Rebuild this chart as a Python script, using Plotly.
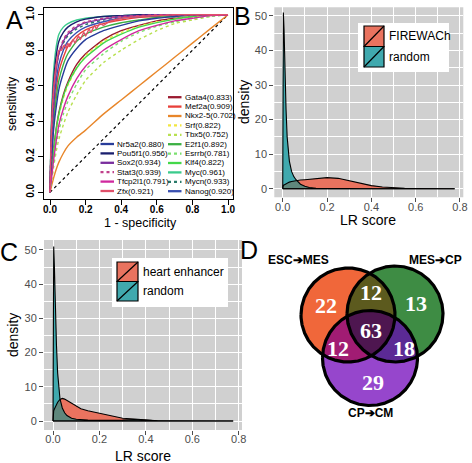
import numpy as np
import plotly.graph_objects as go

W, H = 472, 463
FONT = "Liberation Sans"

# ---------------- Panel A : ROC curves ----------------
fpr_grid = [0, .005, .01, .02, .035, .05, .075, .1, .15, .2, .3, .4, .5, .6, .7, .8, .9, 1]

sens_Gata4 = [0, .07, .13, .24, .36, .45, .55, .62, .72, .78, .86, .91, .94, .965, .98, .99, 1, 1]
sens_Mef2a = [0, .15, .26, .43, .58, .68, .76, .82, .88, .915, .95, .97, .985, .99, 1, 1, 1, 1]
sens_Nkx25 = [0, .02, .04, .08, .13, .17, .22, .26, .31, .35, .44, .52, .60, .68, .76, .84, .92, 1]
sens_Srf = [0, .06, .11, .22, .34, .43, .53, .60, .70, .77, .85, .90, .935, .96, .975, .99, .995, 1]
sens_Tbx5 = [0, .04, .07, .14, .23, .30, .38, .45, .55, .63, .73, .80, .86, .91, .95, .97, .99, 1]
sens_E2f1 = [0, .12, .22, .38, .53, .63, .72, .78, .85, .89, .93, .955, .97, .985, .99, 1, 1, 1]
sens_Esrrb = [0, .04, .08, .16, .27, .35, .44, .51, .61, .69, .78, .85, .90, .935, .96, .98, .99, 1]
sens_Klf4 = [0, .06, .12, .23, .35, .44, .54, .61, .70, .76, .84, .89, .93, .955, .975, .99, 1, 1]
sens_Myc = [0, .30, .48, .68, .82, .89, .93, .95, .97, .98, .99, .995, 1, 1, 1, 1, 1, 1]
sens_Mycn = [0, .24, .38, .56, .70, .78, .84, .88, .92, .945, .97, .985, .99, .995, 1, 1, 1, 1]
sens_Nanog = [0, .18, .30, .48, .63, .72, .80, .85, .90, .93, .96, .98, .99, .995, 1, 1, 1, 1]
sens_Nr5a2 = [0, .12, .20, .35, .48, .58, .67, .74, .81, .86, .91, .94, .965, .98, .99, 1, 1, 1]
sens_Pou5f1 = [0, .25, .42, .62, .77, .85, .90, .93, .96, .975, .99, .995, 1, 1, 1, 1, 1, 1]
sens_Sox2 = [0, .20, .34, .53, .69, .78, .85, .89, .93, .955, .975, .99, .995, 1, 1, 1, 1, 1]
sens_Stat3 = [0, .22, .37, .56, .71, .79, .86, .90, .94, .96, .98, .99, .995, 1, 1, 1, 1, 1]
sens_Tfcp2l1 = [0, .05, .09, .18, .29, .38, .47, .54, .64, .71, .80, .86, .91, .94, .965, .98, .995, 1]
fpr_Zfx = [0, .005, .01, .02, .035, .05, .065, .08, .09, .1, .11, .13, .14, .16, .17, .19, .2, .22,
           .23, .25, .26, .28, .3, .33, .36, .4, .5, .6, .7, .8, .9, 1]
sens_Zfx = [0, .25, .40, .58, .72, .80, .80, .83, .81, .84, .82, .86, .84, .88, .86, .90, .88, .92,
            .90, .94, .92, .95, .94, .96, .97, .98, .99, .995, 1, 1, 1, 1]

genes = ["Gata4", "Mef2a", "Nkx2-5", "Srf", "Tbx5", "E2f1", "Esrrb", "Klf4", "Myc", "Mycn",
         "Nanog", "Nr5a2", "Pou5f1", "Sox2", "Stat3", "Tfcp2l1", "Zfx"]
aucs = [0.833, 0.909, 0.702, 0.822, 0.752, 0.892, 0.781, 0.822, 0.961, 0.933,
        0.920, 0.880, 0.956, 0.934, 0.939, 0.791, 0.921]
roc_x = [fpr_grid] * 16 + [fpr_Zfx]
roc_y = [sens_Gata4, sens_Mef2a, sens_Nkx25, sens_Srf, sens_Tbx5, sens_E2f1, sens_Esrrb, sens_Klf4,
         sens_Myc, sens_Mycn, sens_Nanog, sens_Nr5a2, sens_Pou5f1, sens_Sox2, sens_Stat3,
         sens_Tfcp2l1, sens_Zfx]
gene_colors = ["#9B1B30", "#E8403A", "#E8862A", "#F2E640", "#B8E050", "#3CB043", "#7CE070",
               "#44D84A", "#3BCB8C", "#2A7A6A", "#3A50B0", "#283C9A", "#1A1F6E", "#7A2E9E",
               "#C0408A", "#D0289E", "#E0506A"]
gene_dash = ["solid", "solid", "solid", "dot", "dot", "solid", "dot", "solid", "solid", "dot",
             "solid", "solid", "solid", "solid", "dot", "solid", "solid"]
right_col_count = 11  # first 11 genes in right legend column

# ---------------- Panels B, C : densities ----------------
lr_score = [0, .003, .006, .01, .015, .02, .03, .04, .05, .06, .08, .1, .12, .15, .2, .25, .3,
            .35, .4, .45, .5, .55, .6, .65, .7, .776]
dens_firewach = [0.9, 1.0, 1.1, 1.25, 1.4, 1.6, 1.9, 2.1, 2.25, 2.35, 2.5, 2.6, 2.7, 2.9, 3.2,
                 3.0, 2.3, 1.5, 0.9, 0.5, 0.25, 0.12, 0.06, 0.03, 0.01, 0]
dens_random_B = [30, 51, 46, 34, 23, 15, 8, 5, 3.5, 2.6, 1.3, 0.7, 0.35, 0.15, 0.05, 0.02, 0.01,
                 0, 0, 0, 0, 0, 0, 0, 0, 0]
dens_heart = [2.5, 3.0, 3.5, 4.2, 4.9, 5.5, 6.3, 6.6, 6.4, 6.0, 5.0, 4.2, 3.6, 3.0, 2.2, 1.4, 0.8,
              0.6, 0.25, 0.08, 0.03, 0.01, 0, 0, 0, 0]
dens_random_C = [20, 51, 45, 33, 22, 14, 6.5, 3.8, 2.4, 1.6, 0.8, 0.5, 0.35, 0.25, 0.2, 0.2, 0.3,
                 0.45, 0.2, 0.05, 0.02, 0.01, 0, 0, 0, 0]
x_ticks_lr = [0, 0.2, 0.4, 0.6, 0.8]
x_ticktext_lr = ["0.0", "0.2", "0.4", "0.6", "0.8"]
y_ticks_dens = [0, 10, 20, 30, 40, 50]

# ---------------- Panel D : Venn ----------------
venn_sets = ["ESC\u2794MES", "MES\u2794CP", "CP\u2794CM"]
venn_counts = {"A": 22, "B": 13, "C": 29, "AB": 12, "AC": 12, "BC": 18, "ABC": 63}

# colours
SALMON = "#E9735F"
TEAL = "#40A9AE"
OVERLAP = "#5F877C"
PANEL_GREY = "#D0D0D0"


def px(x):
    return x / W


def py(y):
    return 1 - y / H


fig = go.Figure()
shapes = []
annotations = []

# ---- A: ROC traces
fig.add_trace(go.Scatter(x=[0, 1], y=[0, 1], mode="lines", xaxis="x", yaxis="y",
                         line=dict(color="black", width=1.2, dash="dot"), hoverinfo="skip"))
for g, xs, ys, col, dsh in zip(genes, roc_x, roc_y, gene_colors, gene_dash):
    fig.add_trace(go.Scatter(x=xs, y=ys, mode="lines", xaxis="x", yaxis="y", name=g,
                             line=dict(color=col, width=1.4, dash=dsh, shape="spline", smoothing=0.5)))

# ---- A: legend (two columns)
row_h = 9.4
for i, (g, a, col, dsh) in enumerate(zip(genes, aucs, gene_colors, gene_dash)):
    if i < right_col_count:
        lx0, lx1, tx, yy = 168.0, 181.5, 182.5, 97.2 + row_h * i
    else:
        j = i - right_col_count
        lx0, lx1, tx, yy = 100.5, 114.0, 115.0, 144.0 + row_h * j
    shapes.append(dict(type="line", xref="paper", yref="paper", x0=px(lx0), x1=px(lx1),
                       y0=py(yy), y1=py(yy), line=dict(color=col, width=2.3, dash=dsh)))
    annotations.append(dict(xref="paper", yref="paper", x=px(tx), y=py(yy), xanchor="left",
                            yanchor="middle", showarrow=False, text=f"{g}({a:.3f})",
                            font=dict(family=FONT, size=8, color="black")))

# ---- B & C densities
def density_traces(xa, ya, d1, d2):
    ov = [min(a, b) for a, b in zip(d1, d2)]
    for d, c in ((d1, SALMON), (d2, TEAL), (ov, OVERLAP)):
        fig.add_trace(go.Scatter(x=lr_score, y=d, mode="lines", fill="tozeroy", fillcolor=c,
                                 line=dict(width=0, color=c), xaxis=xa, yaxis=ya, hoverinfo="skip"))
    for d in (d1, d2):
        xs = [lr_score[0]] + lr_score + [lr_score[-1], lr_score[0]]
        ys = [0] + d + [0, 0]
        fig.add_trace(go.Scatter(x=xs, y=ys, mode="lines", line=dict(color="black", width=1.1),
                                 xaxis=xa, yaxis=ya, hoverinfo="skip"))


density_traces("x2", "y2", dens_firewach, dens_random_B)
density_traces("x3", "y3", dens_heart, dens_random_C)

for ax in ("x2", "x3"):
    yax = "y" + ax[1:]
    shapes.append(dict(type="rect", xref=f"{ax} domain", yref=f"{yax} domain", x0=0, x1=1, y0=0, y1=1,
                       fillcolor=PANEL_GREY, line=dict(width=0), layer="below"))


def legend_box(x0, y0, x1, y1, kx0, kx1, ky, labels, tx, fs):
    shapes.append(dict(type="rect", xref="paper", yref="paper", x0=px(x0), x1=px(x1), y0=py(y1),
                       y1=py(y0), fillcolor="white", line=dict(width=0)))
    for (k0, k1), col, lab in zip(ky, (SALMON, TEAL), labels):
        shapes.append(dict(type="rect", xref="paper", yref="paper", x0=px(kx0), x1=px(kx1),
                           y0=py(k1), y1=py(k0), fillcolor=col, line=dict(color="black", width=1.2)))
        shapes.append(dict(type="line", xref="paper", yref="paper", x0=px(kx0), x1=px(kx1),
                           y0=py(k1), y1=py(k0), line=dict(color="black", width=1.2)))
        annotations.append(dict(xref="paper", yref="paper", x=px(tx), y=py((k0 + k1) / 2),
                                xanchor="left", yanchor="middle", showarrow=False, text=lab,
                                font=dict(family=FONT, size=fs, color="black")))


legend_box(358, 23, 449, 72, 364, 384, [(26, 46.5), (46.5, 67)], ["FIREWACh", "random"], 386.5, 12)
legend_box(112, 258, 228, 307, 117, 138, [(262, 281.5), (281.5, 301)], ["heart enhancer", "random"], 140.5, 12)

# ---- D: Venn
circles = [((348, 315), 47), ((395, 314), 48), ((370, 358), 47.5)]
set_colors = ["#F0673A", "#3E8C44", "#9646CC"]
region_colors = {(0, 1): "#5C5A1E", (0, 2): "#A11C73", (1, 2): "#5B2A95", (0, 1, 2): "#4E1650"}


def inside(p, k):
    (cx, cy), r = circles[k]
    return (p[0] - cx) ** 2 + (p[1] - cy) ** 2 <= r * r + 1e-6


def region_poly(idx):
    pts = []
    for i in idx:
        (cx, cy), r = circles[i]
        for t in np.linspace(0, 2 * np.pi, 1441):
            p = (cx + r * np.cos(t), cy + r * np.sin(t))
            if all(inside(p, j) for j in idx if j != i):
                pts.append(p)
    pts = np.array(pts)
    c = pts.mean(axis=0)
    order = np.argsort(np.arctan2(pts[:, 1] - c[1], pts[:, 0] - c[0]))
    pts = pts[order]
    return list(pts[:, 0]) + [pts[0, 0]], list(pts[:, 1]) + [pts[0, 1]]


for k in range(3):
    xs, ys = region_poly((k,))
    fig.add_trace(go.Scatter(x=xs, y=ys, mode="lines", fill="toself", fillcolor=set_colors[k],
                             line=dict(width=0), xaxis="x4", yaxis="y4", hoverinfo="skip"))
for idx, col in region_colors.items():
    xs, ys = region_poly(idx)
    fig.add_trace(go.Scatter(x=xs, y=ys, mode="lines", fill="toself", fillcolor=col,
                             line=dict(width=0), xaxis="x4", yaxis="y4", hoverinfo="skip"))
for k in range(3):
    xs, ys = region_poly((k,))
    fig.add_trace(go.Scatter(x=xs, y=ys, mode="lines", line=dict(color="black", width=3.2),
                             xaxis="x4", yaxis="y4", hoverinfo="skip"))

count_pos = {"A": (326, 305), "AB": (371, 292), "B": (416, 303), "ABC": (371, 330),
             "AC": (338, 348), "BC": (404, 348), "C": (373, 382)}
for key, (cx, cy) in count_pos.items():
    annotations.append(dict(xref="x4", yref="y4", x=cx, y=cy, xanchor="center", yanchor="middle",
                            showarrow=False, text=f"<b>{venn_counts[key]}</b>",
                            font=dict(family="Liberation Serif", size=22, color="white")))
for lab, (lx, ly) in zip(venn_sets, [(298, 260), (435, 260), (370, 413)]):
    annotations.append(dict(xref="paper", yref="paper", x=px(lx), y=py(ly), xanchor="center",
                            yanchor="middle", showarrow=False, text=f"<b>{lab}</b>",
                            font=dict(family=FONT, size=12, color="black")))

# ---- titles and panel letters
def txt(x, y, s, size, angle=0, bold=False, family=FONT):
    annotations.append(dict(xref="paper", yref="paper", x=px(x), y=py(y), xanchor="center",
                            yanchor="middle", showarrow=False, text=f"<b>{s}</b>" if bold else s,
                            textangle=angle, font=dict(family=family, size=size, color="black")))


txt(140, 222.5, "1 - specificity", 12.5)
txt(12, 104, "sensitivity", 12.5, angle=-90)
txt(368, 219.5, "LR score", 14)
txt(244, 102, "density", 14, angle=-90)
txt(143, 456, "LR score", 14)
txt(13, 335, "density", 14, angle=-90)
txt(14.5, 20, "A", 25)
txt(243, 16, "B", 25)
txt(9, 252, "C", 25)
txt(249, 250, "D", 25)

# ---- axes
a_tick = dict(family=FONT, size=10, color="black", weight="bold")
gg_tick = dict(family=FONT, size=11, color="#4D4D4D")

layout_axes = dict(
    xaxis=dict(domain=[px(44), px(233)], range=[-0.0337, 1.028], tickvals=[0, .2, .4, .6, .8, 1],
               ticktext=["0.0", "0.2", "0.4", "0.6", "0.8", "1.0"], ticks="outside", ticklen=5,
               tickcolor="black", showline=True, mirror=True, linecolor="black", linewidth=1,
               showgrid=False, zeroline=False, tickfont=a_tick, anchor="y", automargin=False,
               ticklabelstandoff=-4),
    yaxis=dict(domain=[py(199.3), py(8.3)], range=[-0.0394, 1.036], tickvals=[0, .2, .4, .6, .8, 1],
               ticktext=["0.0", "0.2", "0.4", "0.6", "0.8", "1.0"], ticks="outside", ticklen=5,
               tickcolor="black", showline=True, mirror=True, linecolor="black", linewidth=1,
               showgrid=False, zeroline=False, tickfont=a_tick, tickangle=-90, anchor="x",
               automargin=False),
)
for n, dom_x, dom_y, rx, ry in (
        ("2", [px(274.3), px(463.3)], [py(197.3), py(7.3)], [-0.038, 0.815], [-2.49, 52.5]),
        ("3", [px(44), px(242)], [py(430), py(240)], [-0.0388, 0.814], [-2.63, 52.9])):
    layout_axes["xaxis" + n] = dict(domain=dom_x, range=rx, tickvals=x_ticks_lr, ticktext=x_ticktext_lr,
                                    ticks="outside", ticklen=4, tickcolor="#4D4D4D", showline=False,
                                    showgrid=True, gridcolor="white", gridwidth=1.2, zeroline=False,
                                    minor=dict(dtick=0.1, tick0=0, showgrid=True, gridcolor="white",
                                               gridwidth=0.5, ticks=""),
                                    tickfont=gg_tick, anchor="y" + n, automargin=False,
                                    ticklabelstandoff=-5)
    layout_axes["yaxis" + n] = dict(domain=dom_y, range=ry, tickvals=y_ticks_dens,
                                    ticks="outside", ticklen=4, tickcolor="#4D4D4D", showline=False,
                                    showgrid=True, gridcolor="white", gridwidth=1.2, zeroline=False,
                                    minor=dict(dtick=5, tick0=0, showgrid=True, gridcolor="white",
                                               gridwidth=0.5, ticks=""),
                                    tickfont=gg_tick, anchor="x" + n, automargin=False)
layout_axes["xaxis4"] = dict(domain=[px(244), 1], range=[244, 472], visible=False, anchor="y4",
                             automargin=False)
layout_axes["yaxis4"] = dict(domain=[0, py(236)], range=[463, 236], visible=False, anchor="x4",
                             automargin=False)

fig.update_layout(template="none", width=W, height=H, margin=dict(l=0, r=0, t=0, b=0),
                  showlegend=False, plot_bgcolor="white", paper_bgcolor="white", shapes=shapes,
                  annotations=annotations, **layout_axes)
fig.write_html("out.html", config={"displayModeBar": False},
               post_script="document.body.style.margin='0px';document.body.style.overflow='hidden';")
